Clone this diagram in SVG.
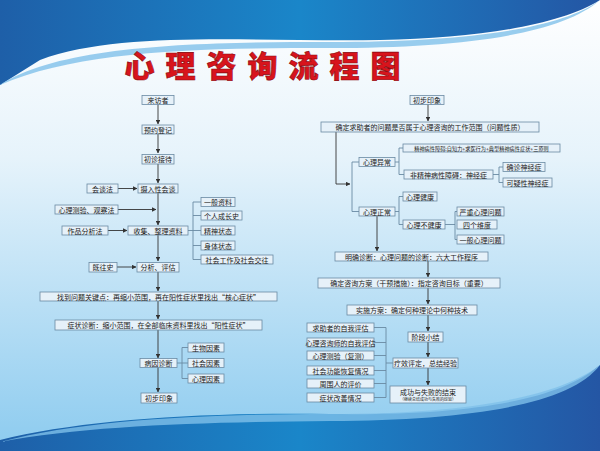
<svg xmlns="http://www.w3.org/2000/svg" width="600" height="451" viewBox="0 0 600 451">
<defs>
<linearGradient id="bg" x1="0" y1="0" x2="0" y2="1"><stop offset="0" stop-color="#ffffff"/><stop offset="0.35" stop-color="#e6f3fb"/><stop offset="1" stop-color="#8ccbef"/></linearGradient>
<linearGradient id="band" x1="0" y1="0" x2="1" y2="0"><stop offset="0" stop-color="#1e5fa8"/><stop offset="0.5" stop-color="#1a86c9"/><stop offset="1" stop-color="#2456a4"/></linearGradient>
<marker id="ar" viewBox="0 0 6 6" refX="5.5" refY="3" markerWidth="5" markerHeight="5" orient="auto"><path d="M0,0L6,3L0,6z" fill="#333"/></marker>
<style>
.n rect{fill:#e6f1f9;stroke:#6a8aa3;stroke-width:0.8}
.n text{font-family:"Noto Sans CJK SC",sans-serif;font-size:7px;fill:#222;text-anchor:middle;dominant-baseline:central}
#c line,#c polyline{stroke:#333;stroke-width:0.9;fill:none}
#c .a{marker-end:url(#ar)}
#c .b{stroke:#6a8aa3}
</style>
</defs>
<rect width="600" height="451" fill="url(#bg)"/>
<path d="M0,0H600V0C560,25 480,38 380,40C250,42 120,30 40,60L0,85Z" fill="url(#band)"/>
<path d="M0,85C60,45 200,42 330,42C460,42 560,30 600,0C560,35 460,48 330,48C200,48 80,50 0,85Z" fill="#7fc0ea" opacity="0.8"/>
<path d="M0,451V440C80,420 200,412 330,414C470,416 560,400 600,365V451Z" fill="url(#band)"/>
<path d="M0,442C90,418 220,414 330,414C470,414 560,396 600,365C570,405 470,420 330,421C210,422 90,425 0,442Z" fill="#7fc0ea" opacity="0.8"/>
<text x="268" y="77" text-anchor="middle" font-family="Noto Sans CJK SC,sans-serif" font-weight="900" font-size="30" letter-spacing="11" fill="#d8141c" stroke="#8a0a10" stroke-width="0.6">心理咨询流程图</text>

<g id="c">
<line x1="158" y1="104" x2="158" y2="124" class="a"/>
<line x1="158" y1="134" x2="158" y2="153" class="a"/>
<line x1="158" y1="164" x2="158" y2="183" class="a"/>
<line x1="118" y1="188.5" x2="137" y2="188.5" class="a"/>
<line x1="158" y1="193" x2="158" y2="225" class="a"/>
<line x1="118" y1="209.5" x2="156" y2="209.5" class="a"/>
<line x1="108" y1="230.5" x2="127" y2="230.5" class="a"/>
<line x1="158" y1="235" x2="158" y2="261" class="a"/>
<line x1="117" y1="267" x2="136" y2="267" class="a"/>
<line x1="158" y1="272" x2="158" y2="291" class="a"/>
<line x1="158" y1="301" x2="158" y2="319" class="a"/>
<line x1="158" y1="330" x2="158" y2="358" class="a"/>
<line x1="158" y1="367" x2="158" y2="392" class="a"/>
<polyline class="b" points="188,230.5 193,230.5"/>
<polyline class="b" points="201,202 193,202 193,259.5 201,259.5"/>
<line class="b" x1="193" y1="215.5" x2="201" y2="215.5"/>
<line class="b" x1="193" y1="230.5" x2="201" y2="230.5"/>
<line class="b" x1="193" y1="245.5" x2="201" y2="245.5"/>
<polyline class="b" points="188,347.5 182,347.5 182,378.5 188,378.5"/>
<line class="b" x1="177" y1="363" x2="188" y2="363"/>

<line x1="428" y1="104" x2="428" y2="121" class="a"/>
<polyline class="a" points="336,132 336,184 350,184"/>
<polyline class="b" points="359,162 352,162 352,211.5 359,211.5"/>
<line class="b" x1="395" y1="162" x2="399" y2="162"/>
<polyline class="b" points="403,148 399,148 399,174.5 404,174.5"/>
<line class="b" x1="493" y1="174.5" x2="499" y2="174.5"/>
<polyline class="b" points="503,167 499,167 499,182.5 503,182.5"/>
<line class="b" x1="395" y1="211.5" x2="399" y2="211.5"/>
<polyline class="b" points="403,196.5 399,196.5 399,224.5 403,224.5"/>
<line class="b" x1="445" y1="224.5" x2="455" y2="224.5"/>
<polyline class="b" points="457,211.5 455,211.5 455,239.5 457,239.5"/>
<line x1="377" y1="216" x2="377" y2="251" class="a"/>
<line x1="428" y1="261" x2="428" y2="277" class="a"/>
<line x1="428" y1="288" x2="428" y2="304" class="a"/>
<line x1="428" y1="315" x2="428" y2="331" class="a"/>
<line x1="428" y1="342" x2="428" y2="357" class="a"/>
<line x1="428" y1="368" x2="428" y2="385" class="a"/>
<polyline class="b" points="374,327.5 386,327.5 386,397.5 374,397.5"/>
<line class="b" x1="374" y1="342.5" x2="386" y2="342.5"/>
<line class="b" x1="374" y1="355.5" x2="386" y2="355.5"/>
<line class="b" x1="374" y1="370.5" x2="386" y2="370.5"/>
<line class="b" x1="374" y1="383.5" x2="386" y2="383.5"/>
<line class="b" x1="386" y1="363" x2="393" y2="363"/>
</g>

<g id="n1" class="n"><rect x="142" y="95.5" width="32" height="9"/><text x="158" y="100">来访者</text></g>
<g id="n2" class="n"><rect x="142" y="125" width="32" height="9"/><text x="158" y="129.5">预约登记</text></g>
<g id="n3" class="n"><rect x="142" y="154.5" width="32" height="9.5"/><text x="158" y="159.2">初诊接待</text></g>
<g id="n4" class="n"><rect x="138" y="184" width="40" height="9"/><text x="158" y="188.5">摄入性会谈</text></g>
<g id="n5" class="n"><rect x="87" y="184" width="31" height="9"/><text x="102.5" y="188.5">会谈法</text></g>
<g id="n6" class="n"><rect x="55" y="205" width="63" height="9"/><text x="86.5" y="209.5">心理测验、观察法</text></g>
<g id="n7" class="n"><rect x="128" y="226" width="60" height="9"/><text x="158" y="230.5">收集、整理资料</text></g>
<g id="n8" class="n"><rect x="62" y="226" width="46" height="9"/><text x="85" y="230.5">作品分析法</text></g>
<g id="n9" class="n"><rect x="201" y="197.5" width="34" height="9"/><text x="218" y="202">一般资料</text></g>
<g id="n10" class="n"><rect x="201" y="211" width="41" height="9"/><text x="221.5" y="215.5">个人成长史</text></g>
<g id="n11" class="n"><rect x="201" y="226" width="34" height="9"/><text x="218" y="230.5">精神状态</text></g>
<g id="n12" class="n"><rect x="201" y="241" width="34" height="9"/><text x="218" y="245.5">身体状态</text></g>
<g id="n13" class="n"><rect x="201" y="255" width="72" height="9"/><text x="237" y="259.5">社会工作及社会交往</text></g>
<g id="n14" class="n"><rect x="137" y="262.5" width="42" height="9.5"/><text x="158" y="267.2">分析、评估</text></g>
<g id="n15" class="n"><rect x="89" y="262.5" width="28" height="9.5"/><text x="103" y="267.2">既往史</text></g>
<g id="n16" class="n"><rect x="40" y="292" width="237" height="9"/><text x="158.5" y="296.5">找到问题关键点：再缩小范围，再在阳性症状里找出“核心症状”</text></g>
<g id="n17" class="n"><rect x="55" y="320" width="207" height="10"/><text x="158.5" y="325">症状诊断：缩小范围，在全部临床资料里找出“阳性症状”</text></g>
<g id="n18" class="n"><rect x="140" y="358.5" width="37" height="9"/><text x="158.5" y="363">病因诊断</text></g>
<g id="n19" class="n"><rect x="188" y="343" width="36" height="9"/><text x="206" y="347.5">生物因素</text></g>
<g id="n20" class="n"><rect x="188" y="358.5" width="36" height="9"/><text x="206" y="363">社会因素</text></g>
<g id="n21" class="n"><rect x="188" y="374" width="36" height="9"/><text x="206" y="378.5">心理因素</text></g>
<g id="n22" class="n"><rect x="141" y="393" width="36" height="10"/><text x="159" y="398">初步印象</text></g>

<g id="m1" class="n"><rect x="410" y="95.5" width="34" height="9"/><text x="427" y="100">初步印象</text></g>
<g id="m2" class="n"><rect x="321" y="122" width="218" height="10"/><text x="430" y="127">确定求助者的问题是否属于心理咨询的工作范围（问题性质）</text></g>
<g id="m3" class="n"><rect x="359" y="157.5" width="36" height="9"/><text x="377" y="162">心理异常</text></g>
<g id="m4" class="n"><rect x="403" y="144" width="157" height="8"/><text x="481.5" y="148" style="font-size:5.2px">精神病性障碍:自知力+求医行为+典型精神病性症状+三原则</text></g>
<g id="m5" class="n"><rect x="404" y="170" width="89" height="9"/><text x="448.5" y="174.5">非精神病性障碍：神经症</text></g>
<g id="m6" class="n"><rect x="503" y="162.5" width="42" height="9"/><text x="524" y="167">确诊神经症</text></g>
<g id="m7" class="n"><rect x="503" y="178" width="49" height="9"/><text x="527.5" y="182.5">可疑性神经症</text></g>
<g id="m8" class="n"><rect x="359" y="207" width="36" height="9"/><text x="377" y="211.5">心理正常</text></g>
<g id="m9" class="n"><rect x="403" y="192" width="34" height="9"/><text x="420" y="196.5">心理健康</text></g>
<g id="m10" class="n"><rect x="403" y="220" width="42" height="9"/><text x="424" y="224.5">心理不健康</text></g>
<g id="m11" class="n"><rect x="457" y="207" width="47" height="9"/><text x="480.5" y="211.5">严重心理问题</text></g>
<g id="m12" class="n"><rect x="457" y="220" width="40" height="9"/><text x="477" y="224.5">四个维度</text></g>
<g id="m13" class="n"><rect x="457" y="235" width="47" height="9"/><text x="480.5" y="239.5">一般心理问题</text></g>
<g id="m14" class="n"><rect x="335" y="252" width="153" height="9"/><text x="411.5" y="256.5">明确诊断：心理问题的诊断：六大工作程序</text></g>
<g id="m15" class="n"><rect x="318" y="278" width="182" height="10"/><text x="409" y="283">确定咨询方案（干预措施）：指定咨询目标（重要）</text></g>
<g id="m16" class="n"><rect x="347" y="305" width="130" height="10"/><text x="412" y="310">实施方案：确定何种理论中何种技术</text></g>
<g id="m17" class="n"><rect x="408" y="332" width="35" height="10"/><text x="425.5" y="337">阶段小结</text></g>
<g id="m18" class="n"><rect x="393" y="358" width="65" height="10"/><text x="425.5" y="363">疗效评定，总结经验</text></g>
<g id="m19" class="n"><rect x="390" y="386" width="76" height="17"/><text x="428" y="391.5">成功与失败的结束</text><text x="428" y="399" style="font-size:4px">（继续总结成功与失败的经验）</text></g>
<g id="m20" class="n"><rect x="307" y="323" width="67" height="9"/><text x="340.5" y="327.5">求助者的自我评估</text></g>
<g id="m21" class="n"><rect x="307" y="338" width="67" height="9"/><text x="340.5" y="342.5">心理咨询师的自我评估</text></g>
<g id="m22" class="n"><rect x="307" y="351" width="67" height="9"/><text x="340.5" y="355.5">心理测验（复测）</text></g>
<g id="m23" class="n"><rect x="307" y="366" width="67" height="9"/><text x="340.5" y="370.5">社会功能恢复情况</text></g>
<g id="m24" class="n"><rect x="307" y="379" width="67" height="9"/><text x="340.5" y="383.5">周围人的评价</text></g>
<g id="m25" class="n"><rect x="307" y="393" width="67" height="9"/><text x="340.5" y="397.5">症状改善情况</text></g>
</svg>
